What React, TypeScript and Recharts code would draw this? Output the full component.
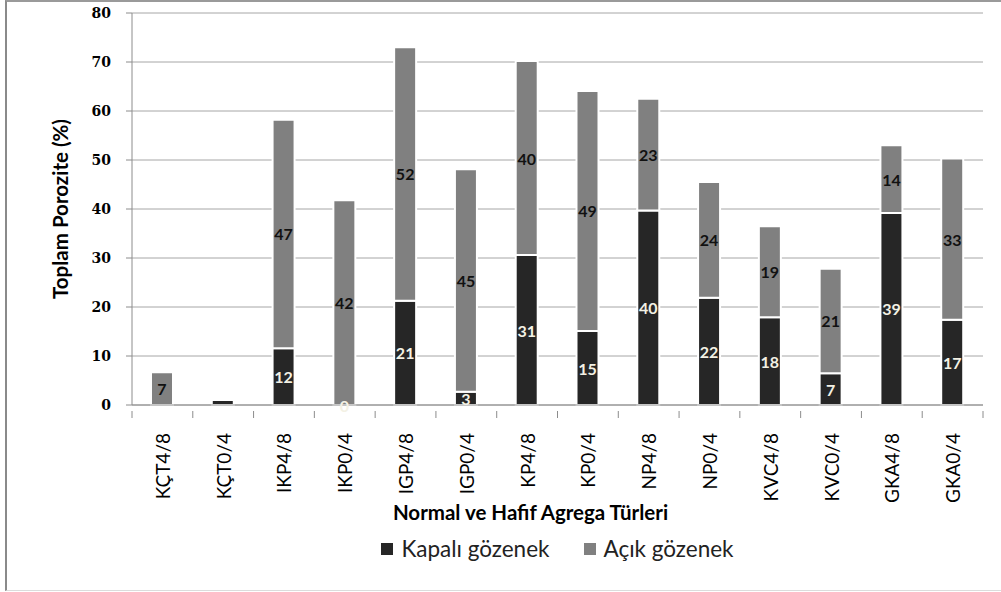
import React from "react";
import { BarChart, Bar, XAxis, YAxis, CartesianGrid, LabelList, Legend } from "recharts";

const categories = ["KÇT4/8", "KÇT0/4", "IKP4/8", "IKP0/4", "IGP4/8", "IGP0/4", "KP4/8", "KP0/4", "NP4/8", "NP0/4", "KVC4/8", "KVC0/4", "GKA4/8", "GKA0/4"];
const closedPores = [0, 1.0, 11.6, 0, 21.3, 2.7, 30.6, 15.1, 39.7, 21.9, 17.9, 6.5, 39.2, 17.4];
const openPores = [6.7, 0, 46.6, 41.8, 51.7, 45.4, 39.6, 49.0, 22.8, 23.6, 18.6, 21.3, 13.8, 32.9];
const closedLabels = ["", "", "12", "0", "21", "3", "31", "15", "40", "22", "18", "7", "39", "17"];
const openLabels = ["7", "", "47", "42", "52", "45", "40", "49", "23", "24", "19", "21", "14", "33"];
const yTicks = [0, 10, 20, 30, 40, 50, 60, 70, 80];

const data = categories.map((name, i) => ({
  name,
  closed: closedPores[i],
  open: openPores[i],
  closedLabel: closedLabels[i],
  openLabel: openLabels[i],
  // zero-height closed segments are skipped by Recharts, so their label rides on the open segment
  zeroClosedLabel: closedPores[i] === 0 ? closedLabels[i] : "",
}));

const DARK = "#262626";
const GRAY = "#808080";
const AXIS = "#8c8c8c";
const SANS = "Lato, 'Open Sans', sans-serif";
const LIGHT_TEXT = "#f3f1e4";

const CHART_W = 1001;
const CHART_H = 592;
const MARGIN = { top: 13, right: 18, bottom: 0, left: 52 };
const Y_AXIS_W = 80;
const BAND = (CHART_W - MARGIN.left - Y_AXIS_W - MARGIN.right) / categories.length;

const CategoryTick = (props: any) => {
  const { x, y, payload, index } = props;
  const top = y - 2;
  return (
    <g>
      <line x1={x - BAND / 2} x2={x - BAND / 2} y1={top} y2={top + 7} stroke={AXIS} strokeWidth={1} />
      {index === categories.length - 1 && (
        <line x1={x + BAND / 2} x2={x + BAND / 2} y1={top} y2={top + 7} stroke={AXIS} strokeWidth={1} />
      )}
      <text
        x={x}
        y={top + 22}
        transform={`rotate(-90, ${x}, ${top + 22})`}
        textAnchor="end"
        dominantBaseline="central"
        fontFamily={SANS}
        fontSize={19}
        fill="#000"
      >
        {payload.value}
      </text>
    </g>
  );
};

const labelText = (x: number, y: number, value: string, color: string) => (
  <text
    x={x}
    y={y}
    textAnchor="middle"
    dominantBaseline="central"
    fontFamily={SANS}
    fontWeight="bold"
    fontSize={16}
    fill={color}
  >
    {value}
  </text>
);

const makeLabel = (color: string) => (props: any) => {
  const { x, y, width, height, value } = props;
  if (!value) return null;
  return labelText(x + width / 2, y + height / 2, value, color);
};

const ZeroClosedLabel = (props: any) => {
  const { x, y, width, height, value } = props;
  if (!value) return null;
  return labelText(x + width / 2, y + height, value, LIGHT_TEXT);
};

const YTitle = (props: any) => {
  const { viewBox } = props;
  const cx = viewBox.x + 8;
  const cy = viewBox.y + viewBox.height / 2;
  return (
    <text
      x={cx}
      y={cy}
      transform={`rotate(-90, ${cx}, ${cy})`}
      textAnchor="middle"
      dominantBaseline="central"
      fontFamily={SANS}
      fontWeight="bold"
      fontSize={20.5}
      fill="#000"
    >
      Toplam Porozite (%)
    </text>
  );
};

const XTitle = (props: any) => {
  const { viewBox } = props;
  const cx = viewBox.x + viewBox.width / 2 - 27;
  return (
    <text
      x={cx}
      y={viewBox.y + 107}
      textAnchor="middle"
      dominantBaseline="central"
      fontFamily={SANS}
      fontWeight="bold"
      fontSize={20.5}
      fill="#000"
    >
      Normal ve Hafif Agrega Türleri
    </text>
  );
};

const LegendContent = () => (
  <div
    style={{
      display: "flex",
      justifyContent: "center",
      alignItems: "center",
      gap: 34,
      fontFamily: SANS,
      fontSize: 22.5,
      color: "#222",
      paddingLeft: 114,
    }}
  >
    {[
      { label: "Kapalı gözenek", color: DARK },
      { label: "Açık gözenek", color: GRAY },
    ].map((it) => (
      <div key={it.label} style={{ display: "flex", alignItems: "center", gap: 8 }}>
        <span style={{ width: 12, height: 12, background: it.color, display: "inline-block" }} />
        <span>{it.label}</span>
      </div>
    ))}
  </div>
);

export default function App() {
  return (
    <div style={{ position: "absolute", left: 0, top: 0, width: CHART_W, height: CHART_H, background: "#fff" }}>
      <div
        style={{
          position: "absolute",
          left: 5,
          top: 0,
          width: CHART_W - 5,
          height: 591,
          borderLeft: "2px solid #8a8a8a",
          borderTop: "2px solid #9a9a9a",
          borderBottom: "1px solid #dcdcdc",
          boxSizing: "border-box",
        }}
      />
      <BarChart
        width={CHART_W}
        height={CHART_H}
        data={data}
        margin={MARGIN}
        barSize={22}
        style={{ position: "absolute", left: 0, top: 0 }}
      >
        <CartesianGrid vertical={false} stroke="#a6a6a6" strokeWidth={1} />
        <XAxis
          dataKey="name"
          axisLine={{ stroke: AXIS }}
          tickLine={false}
          tick={<CategoryTick />}
          interval={0}
          height={187}
          label={<XTitle />}
        />
        <YAxis
          domain={[0, 80]}
          ticks={yTicks}
          width={Y_AXIS_W}
          axisLine={{ stroke: AXIS }}
          tickLine={{ stroke: AXIS }}
          tickSize={6}
          tickMargin={15}
          tick={{ fontFamily: "'DejaVu Serif', serif", fontWeight: "bold", fontSize: 14, fill: "#000" }}
          label={<YTitle />}
        />
        <YAxis
          yAxisId="frame"
          orientation="right"
          domain={[0, 80]}
          width={0}
          tick={false}
          tickLine={false}
          axisLine={{ stroke: "#a6a6a6" }}
        />
        <Legend
          layout="vertical"
          align="center"
          verticalAlign="middle"
          content={<LegendContent />}
          wrapperStyle={{ position: "absolute", top: 535, left: 0, width: CHART_W }}
        />
        <Bar dataKey="closed" name="Kapalı gözenek" stackId="a" fill={DARK} stroke="#fff" strokeWidth={2} isAnimationActive={false}>
          <LabelList dataKey="closedLabel" content={makeLabel(LIGHT_TEXT)} />
        </Bar>
        <Bar dataKey="open" name="Açık gözenek" stackId="a" fill={GRAY} stroke="#fff" strokeWidth={2} isAnimationActive={false}>
          <LabelList dataKey="openLabel" content={makeLabel("#111")} />
          <LabelList dataKey="zeroClosedLabel" content={<ZeroClosedLabel />} />
        </Bar>
      </BarChart>
    </div>
  );
}
